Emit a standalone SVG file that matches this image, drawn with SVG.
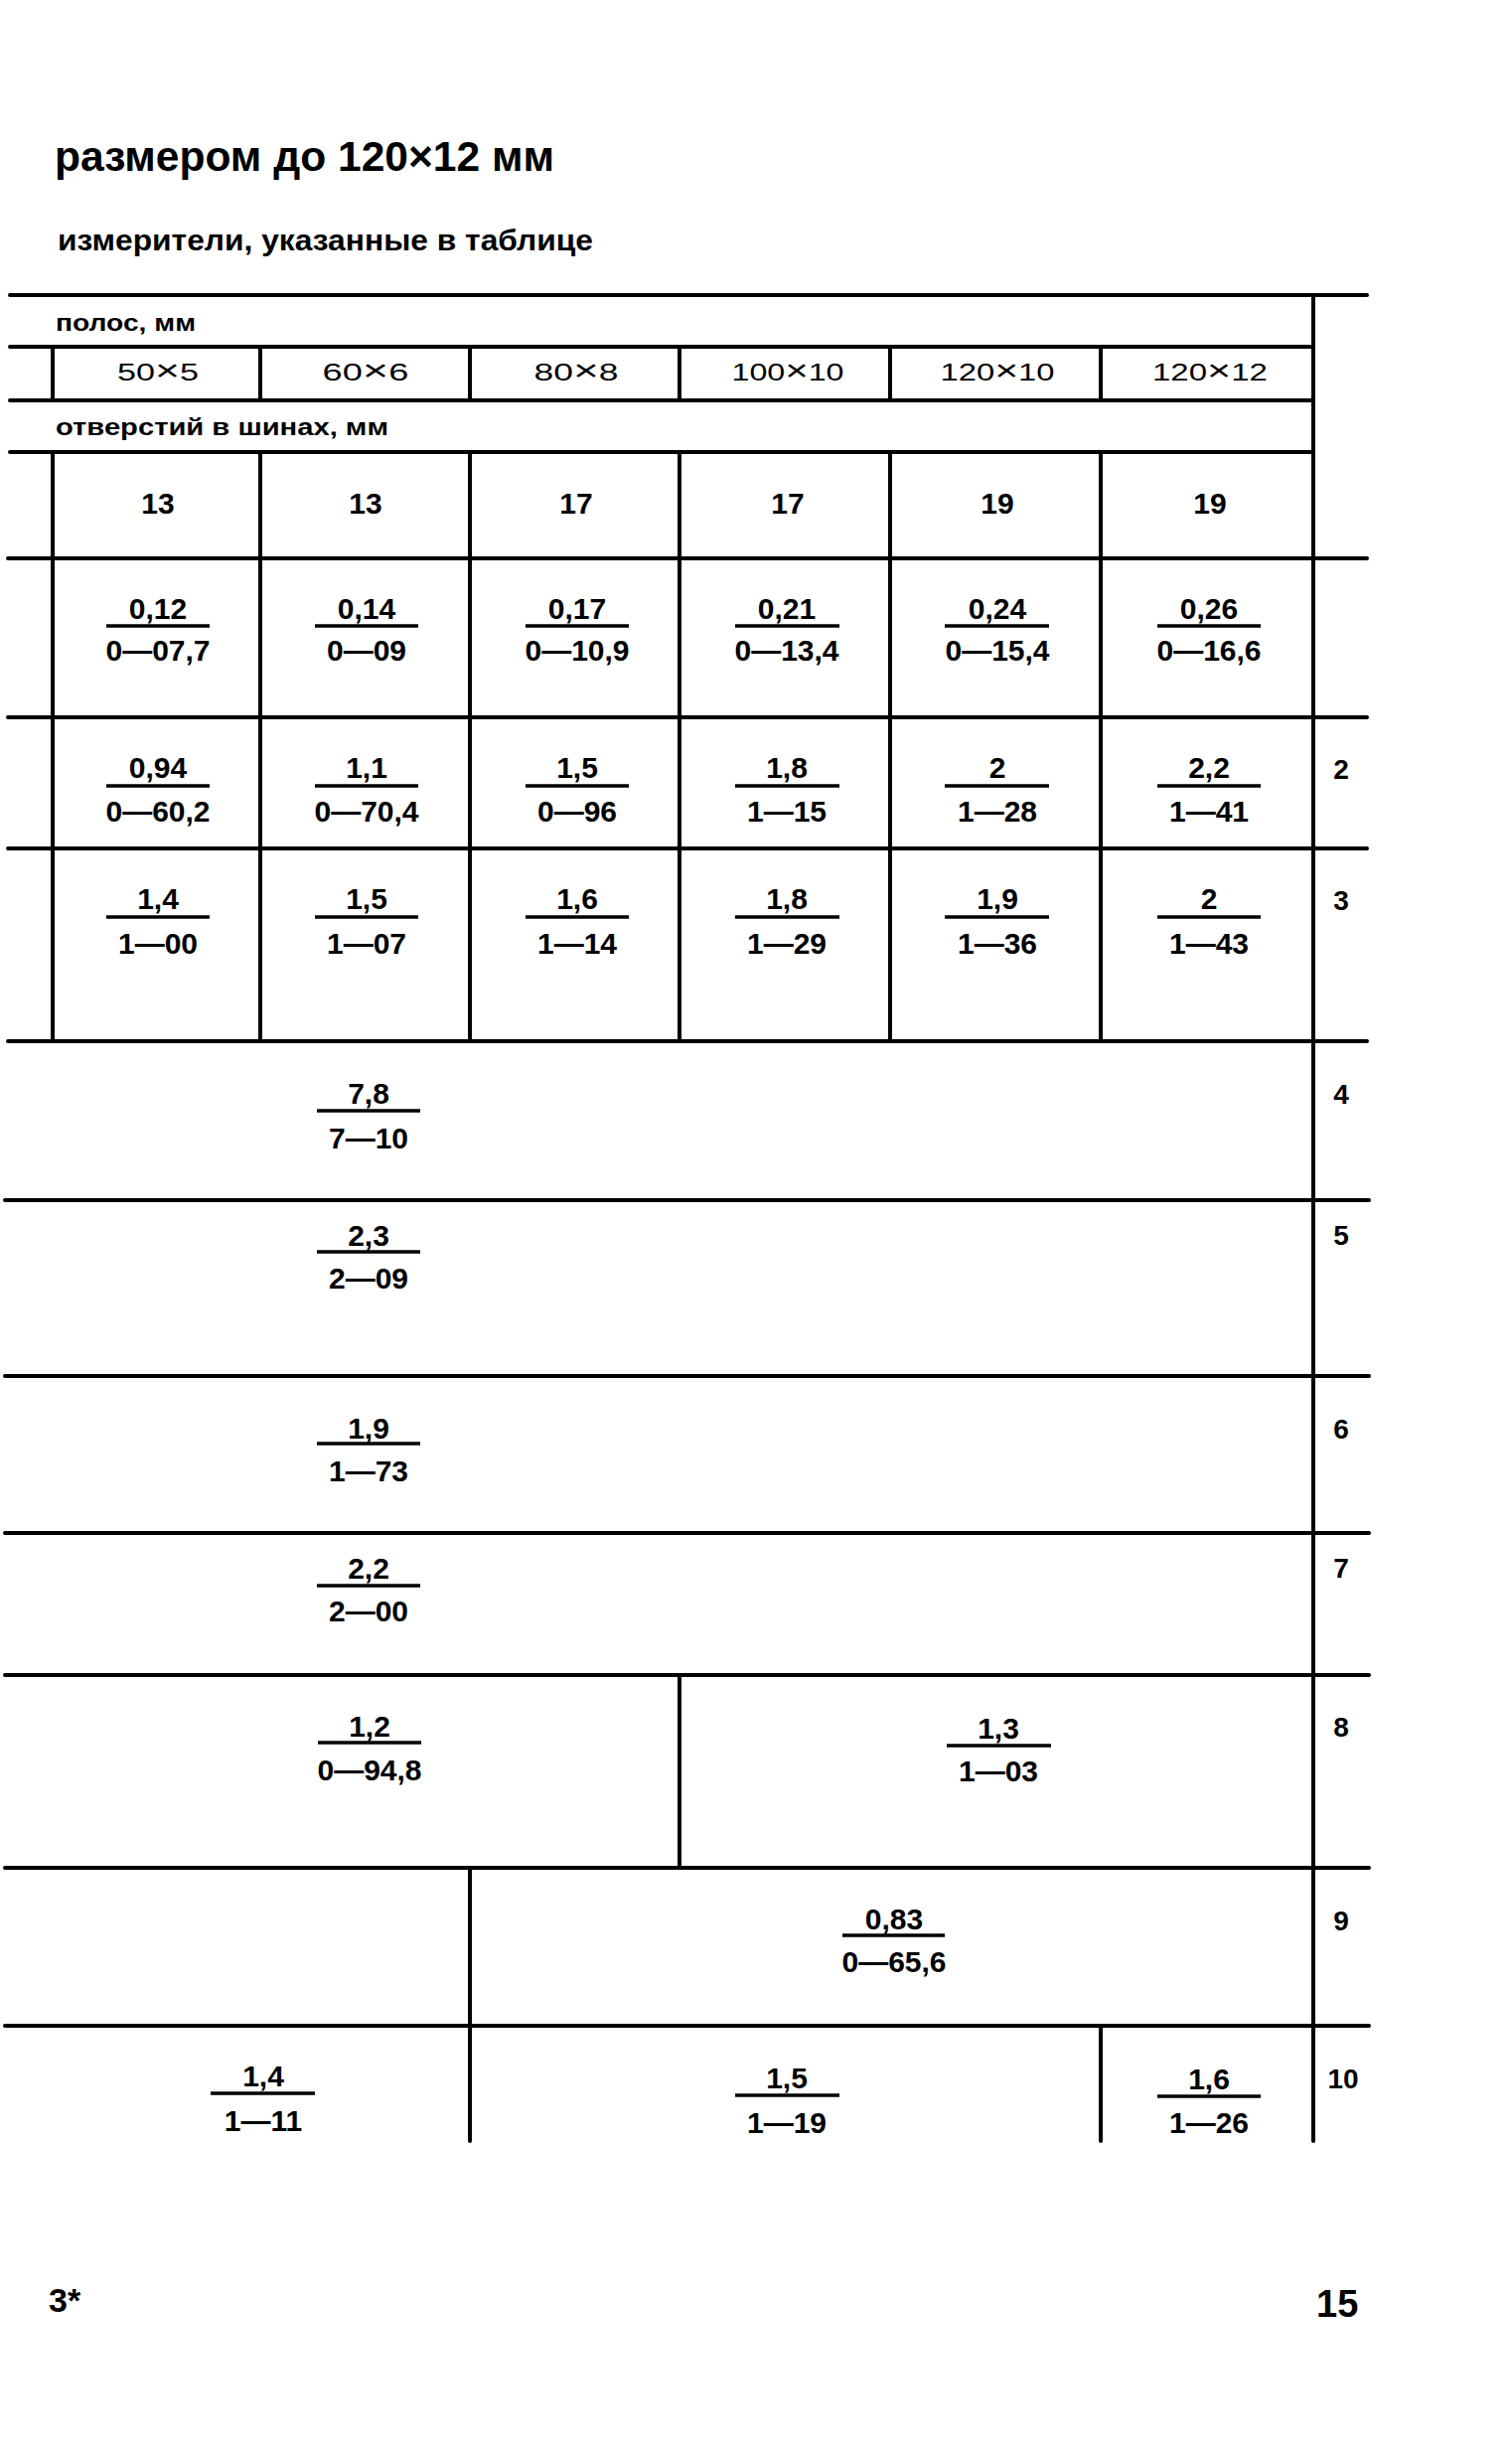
<svg xmlns="http://www.w3.org/2000/svg" width="1522" height="2464" viewBox="0 0 1522 2464">
<style>
.bg{fill:#fff}
.ln{stroke:#000;stroke-width:4;stroke-linecap:round;fill:none}
.fb{stroke:#000;stroke-width:3.5;fill:none}
.t{font-family:"Liberation Sans",Arial,sans-serif;fill:#000}
.b{font-weight:bold}
.hd{font-family:"Liberation Sans",Arial,sans-serif;font-size:24px;text-anchor:middle;fill:#000}
.x{font-size:30px}
.num{font-family:"Liberation Sans",Arial,sans-serif;font-weight:bold;font-size:30px;text-anchor:middle;fill:#000}
.hole{font-family:"Liberation Sans",Arial,sans-serif;font-weight:bold;font-size:30px;text-anchor:middle;fill:#000}
.rn{font-family:"Liberation Sans",Arial,sans-serif;font-weight:bold;font-size:28px;text-anchor:middle;fill:#000}
</style>
<rect class="bg" x="0" y="0" width="1522" height="2464"/>

<g id="titles">
<text class="t b" x="55" y="172" font-size="42" textLength="503" lengthAdjust="spacingAndGlyphs">размером до 120×12 мм</text>
<text class="t b" x="58" y="252" font-size="29" textLength="539" lengthAdjust="spacingAndGlyphs">измерители, указанные в таблице</text>
</g>

<g id="grid">
<line class="ln" x1="10" y1="297" x2="1376" y2="297"/>
<line class="ln" x1="10" y1="349" x2="1322" y2="349"/>
<line class="ln" x1="10" y1="403" x2="1322" y2="403"/>
<line class="ln" x1="10" y1="455" x2="1322" y2="455"/>
<line class="ln" x1="8" y1="562" x2="1376" y2="562"/>
<line class="ln" x1="8" y1="722" x2="1376" y2="722"/>
<line class="ln" x1="8" y1="854" x2="1376" y2="854"/>
<line class="ln" x1="8" y1="1048" x2="1376" y2="1048"/>
<line class="ln" x1="5" y1="1208" x2="1378" y2="1208"/>
<line class="ln" x1="5" y1="1385" x2="1378" y2="1385"/>
<line class="ln" x1="5" y1="1543" x2="1378" y2="1543"/>
<line class="ln" x1="5" y1="1686" x2="1378" y2="1686"/>
<line class="ln" x1="5" y1="1880" x2="1378" y2="1880"/>
<line class="ln" x1="5" y1="2039" x2="1378" y2="2039"/>
<g>
<line class="ln" x1="53" y1="349" x2="53" y2="403"/>
<line class="ln" x1="262" y1="349" x2="262" y2="403"/>
<line class="ln" x1="473" y1="349" x2="473" y2="403"/>
<line class="ln" x1="684" y1="349" x2="684" y2="403"/>
<line class="ln" x1="896" y1="349" x2="896" y2="403"/>
<line class="ln" x1="1108" y1="349" x2="1108" y2="403"/>
<line class="ln" x1="53" y1="455" x2="53" y2="1048"/>
<line class="ln" x1="262" y1="455" x2="262" y2="1048"/>
<line class="ln" x1="473" y1="455" x2="473" y2="1048"/>
<line class="ln" x1="684" y1="455" x2="684" y2="1048"/>
<line class="ln" x1="896" y1="455" x2="896" y2="1048"/>
<line class="ln" x1="1108" y1="455" x2="1108" y2="1048"/>
<line class="ln" x1="1322" y1="297" x2="1322" y2="2155"/>
<line class="ln" x1="684" y1="1686" x2="684" y2="1880"/>
<line class="ln" x1="473" y1="1880" x2="473" y2="2155"/>
<line class="ln" x1="1108" y1="2039" x2="1108" y2="2155"/>
</g>
</g>

<g id="header">
<text class="t b" x="56" y="333" font-size="24" textLength="141" lengthAdjust="spacingAndGlyphs">полос, мм</text>
<text class="hd" x="159" y="383" textLength="82" lengthAdjust="spacingAndGlyphs">50<tspan class="x">×</tspan>5</text>
<text class="hd" x="368" y="383" textLength="87" lengthAdjust="spacingAndGlyphs">60<tspan class="x">×</tspan>6</text>
<text class="hd" x="580" y="383" textLength="85" lengthAdjust="spacingAndGlyphs">80<tspan class="x">×</tspan>8</text>
<text class="hd" x="793" y="383" textLength="113" lengthAdjust="spacingAndGlyphs">100<tspan class="x">×</tspan>10</text>
<text class="hd" x="1004" y="383" textLength="115" lengthAdjust="spacingAndGlyphs">120<tspan class="x">×</tspan>10</text>
<text class="hd" x="1218" y="383" textLength="116" lengthAdjust="spacingAndGlyphs">120<tspan class="x">×</tspan>12</text>
<text class="t b" x="56" y="438" font-size="24" textLength="335" lengthAdjust="spacingAndGlyphs">отверстий в шинах, мм</text>
<text class="hole" x="159" y="517">13</text>
<text class="hole" x="368" y="517">13</text>
<text class="hole" x="580" y="517">17</text>
<text class="hole" x="793" y="517">17</text>
<text class="hole" x="1004" y="517">19</text>
<text class="hole" x="1218" y="517">19</text>
</g>

<g id="row1">
<text class="num" x="159" y="623">0,12</text><line class="fb" x1="107" y1="630" x2="211" y2="630"/><text class="num" x="159" y="665">0—07,7</text>
<text class="num" x="369" y="623">0,14</text><line class="fb" x1="317" y1="630" x2="421" y2="630"/><text class="num" x="369" y="665">0—09</text>
<text class="num" x="581" y="623">0,17</text><line class="fb" x1="529" y1="630" x2="633" y2="630"/><text class="num" x="581" y="665">0—10,9</text>
<text class="num" x="792" y="623">0,21</text><line class="fb" x1="740" y1="630" x2="845" y2="630"/><text class="num" x="792" y="665">0—13,4</text>
<text class="num" x="1004" y="623">0,24</text><line class="fb" x1="951" y1="630" x2="1056" y2="630"/><text class="num" x="1004" y="665">0—15,4</text>
<text class="num" x="1217" y="623">0,26</text><line class="fb" x1="1165" y1="630" x2="1269" y2="630"/><text class="num" x="1217" y="665">0—16,6</text>
</g>

<g id="row2">
<text class="num" x="159" y="783">0,94</text><line class="fb" x1="107" y1="791" x2="211" y2="791"/><text class="num" x="159" y="827">0—60,2</text>
<text class="num" x="369" y="783">1,1</text><line class="fb" x1="317" y1="791" x2="421" y2="791"/><text class="num" x="369" y="827">0—70,4</text>
<text class="num" x="581" y="783">1,5</text><line class="fb" x1="529" y1="791" x2="633" y2="791"/><text class="num" x="581" y="827">0—96</text>
<text class="num" x="792" y="783">1,8</text><line class="fb" x1="740" y1="791" x2="845" y2="791"/><text class="num" x="792" y="827">1—15</text>
<text class="num" x="1004" y="783">2</text><line class="fb" x1="951" y1="791" x2="1056" y2="791"/><text class="num" x="1004" y="827">1—28</text>
<text class="num" x="1217" y="783">2,2</text><line class="fb" x1="1165" y1="791" x2="1269" y2="791"/><text class="num" x="1217" y="827">1—41</text>
<text class="rn" x="1350" y="784">2</text>
</g>

<g id="row3">
<text class="num" x="159" y="915">1,4</text><line class="fb" x1="107" y1="923" x2="211" y2="923"/><text class="num" x="159" y="960">1—00</text>
<text class="num" x="369" y="915">1,5</text><line class="fb" x1="317" y1="923" x2="421" y2="923"/><text class="num" x="369" y="960">1—07</text>
<text class="num" x="581" y="915">1,6</text><line class="fb" x1="529" y1="923" x2="633" y2="923"/><text class="num" x="581" y="960">1—14</text>
<text class="num" x="792" y="915">1,8</text><line class="fb" x1="740" y1="923" x2="845" y2="923"/><text class="num" x="792" y="960">1—29</text>
<text class="num" x="1004" y="915">1,9</text><line class="fb" x1="951" y1="923" x2="1056" y2="923"/><text class="num" x="1004" y="960">1—36</text>
<text class="num" x="1217" y="915">2</text><line class="fb" x1="1165" y1="923" x2="1269" y2="923"/><text class="num" x="1217" y="960">1—43</text>
<text class="rn" x="1350" y="916">3</text>
</g>

<g id="row4">
<text class="num" x="371" y="1111">7,8</text><line class="fb" x1="319" y1="1118" x2="423" y2="1118"/><text class="num" x="371" y="1156">7—10</text>
<text class="rn" x="1350" y="1111">4</text>
</g>

<g id="row5">
<text class="num" x="371" y="1254">2,3</text><line class="fb" x1="319" y1="1260" x2="423" y2="1260"/><text class="num" x="371" y="1297">2—09</text>
<text class="rn" x="1350" y="1253">5</text>
</g>

<g id="row6">
<text class="num" x="371" y="1448">1,9</text><line class="fb" x1="319" y1="1453" x2="423" y2="1453"/><text class="num" x="371" y="1491">1—73</text>
<text class="rn" x="1350" y="1448">6</text>
</g>

<g id="row7">
<text class="num" x="371" y="1589">2,2</text><line class="fb" x1="319" y1="1596" x2="423" y2="1596"/><text class="num" x="371" y="1632">2—00</text>
<text class="rn" x="1350" y="1588">7</text>
</g>

<g id="row8">
<text class="num" x="372" y="1748">1,2</text><line class="fb" x1="320" y1="1754" x2="424" y2="1754"/><text class="num" x="372" y="1792">0—94,8</text>
<text class="num" x="1005" y="1750">1,3</text><line class="fb" x1="953" y1="1757" x2="1058" y2="1757"/><text class="num" x="1005" y="1793">1—03</text>
<text class="rn" x="1350" y="1748">8</text>
</g>

<g id="row9">
<text class="num" x="900" y="1942">0,83</text><line class="fb" x1="848" y1="1948" x2="951" y2="1948"/><text class="num" x="900" y="1985">0—65,6</text>
<text class="rn" x="1350" y="1943">9</text>
</g>

<g id="row10">
<text class="num" x="265" y="2100">1,4</text><line class="fb" x1="212" y1="2107" x2="317" y2="2107"/><text class="num" x="265" y="2145">1—11</text>
<text class="num" x="792" y="2102">1,5</text><line class="fb" x1="740" y1="2109" x2="845" y2="2109"/><text class="num" x="792" y="2147">1—19</text>
<text class="num" x="1217" y="2103">1,6</text><line class="fb" x1="1165" y1="2110" x2="1269" y2="2110"/><text class="num" x="1217" y="2147">1—26</text>
<text class="rn" x="1352" y="2102">10</text>
</g>

<g id="footer">
<text class="t b" x="49" y="2327" font-size="34">3*</text>
<text class="t b" x="1325" y="2332" font-size="38">15</text>
</g>
</svg>
